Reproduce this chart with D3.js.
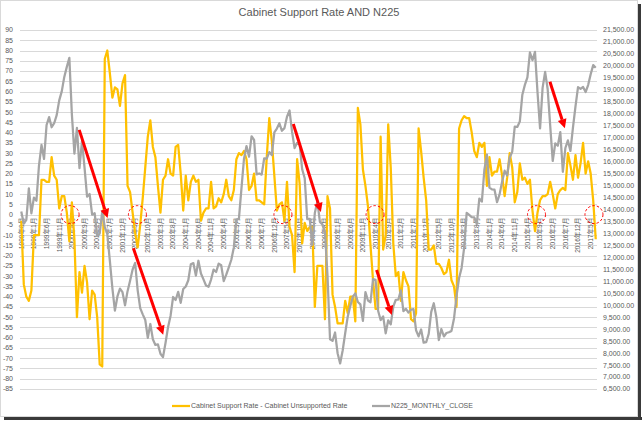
<!DOCTYPE html>
<html><head><meta charset="utf-8">
<script src="https://cdn.jsdelivr.net/npm/d3@7/dist/d3.min.js"></script>
<style>body{margin:0;background:#fff}svg{display:block}</style>
</head><body><svg id="c" width="644" height="421"></svg>
<script>
// ---------- data ----------
const startYear = 1998, startMonth = 8;   // first category: 1998年8月
const supportNet = [
 -3,-34,-40,-42,-37,-10,-10,-10,17,17,16,16,28,19,17,3,9,9,1,-13,
 6,-12,-50,-28,-38,-25,-33,-51,-37,-39,-50,-73,-74,76,80,69,57,62,61,53,
 64,68,14,11,1,-9,-16,-5,8,23,38,46,33,28,14,1,17,19,27,20,
 19,33,34,20,2,19,7,16,19,16,17,-3,1,3,3,16,3,4,8,6,
 10,17,9,7,12,27,30,29,31,27,12,14,20,7,7,6,5,28,47,36,
 19,2,5,6,-3,16,-6,-10,-28,27,15,-14,-4,-8,-6,-6,-45,-25,-25,-25,
 -51,9,3,-39,-45,-53,-53,-53,-42,-48,-40,-40,-52,52,44,22,14,4,-15,-32,
 -46,-46,38,-17,-10,44,23,-14,-30,-28,-42,-28,-32,-35,-51,-52,-48,42,31,18,
 7,-17,-17,-15,-24,-24,-26,-29,-28,-22,-32,-35,-45,42,46,48,47,47,40,31,
 28,35,33,35,14,28,19,21,21,27,19,9,18,30,23,6,11,25,17,18,
 15,17,2,-8,1,7,9,9,10,16,10,3,10,12,13,12,30,24,17,29,
 18,25,35,20,26,20,7,-12
];
const n225 = [
 13919,13406,13565,14883,13842,
 14499,14368,15837,16701,16112,17530,17862,17437,17605,17942,18558,18934,
 19540,19960,20337,17974,16332,17411,15727,16861,15747,14539,14649,13785,
 13844,12884,12999,13934,13262,12969,11861,10714,9775,10367,10697,10543,
 9998,10588,11025,11493,11764,10621,9878,9619,9383,8640,9216,8579,
 8340,8363,7973,7831,8425,9083,9563,10344,10219,10560,10101,10677,
 10784,11042,11715,11762,11236,11859,11326,11082,10824,10771,11073,11489,
 11388,11741,11669,11009,11277,11584,11900,12414,13574,13607,14872,16111,
 16650,16205,17060,16907,15467,15505,15457,16141,16128,16399,16274,17226,
 17383,17604,17288,17400,17876,18138,17249,16569,16786,16738,15681,15308,
 13593,13604,12526,13850,14339,13482,13377,13073,11260,8577,8512,8860,
 7994,7568,8110,8828,9523,9958,10357,10493,10133,10035,9346,10546,
 10198,10126,11090,11057,9769,9383,9537,8824,9369,9202,9937,10229,
 10238,10624,9755,9850,9694,9816,9833,8955,8700,8988,8435,8455,
 8803,9723,10084,9521,8543,9007,8695,8840,8870,8928,9446,10395,
 11139,11559,12398,13861,13775,13677,13668,13389,14456,14328,15662,16291,
 14915,14841,14828,14304,14632,15162,15621,15425,16174,16414,17460,17451,
 17674,18798,19207,19520,20563,20236,20585,18890,17388,19083,19747,19034,
 17518,16027,16759,16666,17235,15576,16569,16887,16450,17425,18308,19114,
 19041,19119,18909,19197,19651,20033,19925
];
const categories = supportNet.map((_, i) => {
  const m = startMonth - 1 + i;
  return (startYear + Math.floor(m / 12)) + "年" + (m % 12 + 1) + "月";
});
const leftTicks = d3.range(-85, 91, 5);
const rightTicks = d3.range(6500, 21501, 500);
const labelEvery = 5;
const titleText = "Cabinet Support Rate AND N225";
const seriesNames = ["Cabinet Support Rate - Cabinet Unsupported Rate", "N225_MONTHLY_CLOSE"];
// annotations in data units: [category index, left-axis value]
const arrows = [
  [[22.9, 41.3], [34.1, -1.6]],
  [[44.3, -16.4], [56.1, -58.6]],
  [[107.5, 44.2], [118.4, 1.3]],
  [[140.4, -27], [146.4, -48.9]],
  [[208.9, 64.8], [214.8, 42.1]]
];
const circles = [19.3, 45.9, 103.4, 139.8, 203.6, 226.3];

// ---------- drawing ----------
const svg = d3.select("#c");
const W = 644, H = 421;
const plot = {l: 20, r: 597, t: 30, b: 389};
const FONT = "'Liberation Sans', Arial, 'Noto Sans CJK JP', sans-serif";
const TXT = "#595959";

// frame + shadow
svg.append("rect").attr("x", 4).attr("y", 417).attr("width", 638).attr("height", 3).attr("fill", "#3a3a3a");
svg.append("rect").attr("x", 638).attr("y", 4).attr("width", 3).attr("height", 416).attr("fill", "#3a3a3a");
svg.append("rect").attr("x", 0.5).attr("y", 0.5).attr("width", 637).attr("height", 416)
  .attr("fill", "#fff").attr("stroke", "#d9d9d9");

const x = d3.scaleBand().domain(categories).range([plot.l, plot.r]);
const bw = x.bandwidth();
const cx = c => x(c) + bw / 2;
const xi = d3.scaleLinear().domain([0, categories.length]).range([plot.l, plot.r]);
const yL = d3.scaleLinear().domain([-85, 90]).range([plot.b, plot.t]);
const yR = d3.scaleLinear().domain([6500, 21500]).range([plot.b, plot.t]);

// gridlines
svg.append("g").selectAll("line").data(leftTicks).join("line")
  .attr("x1", plot.l).attr("x2", plot.r)
  .attr("y1", d => Math.round(yL(d)) + 0.5).attr("y2", d => Math.round(yL(d)) + 0.5)
  .attr("stroke", "#d9d9d9").attr("stroke-width", 1);

// left axis labels
svg.append("g").selectAll("text").data(leftTicks).join("text")
  .attr("x", 13).attr("y", d => yL(d)).attr("dy", "0.35em")
  .attr("text-anchor", "end").attr("font-family", FONT).attr("font-size", 7).attr("fill", TXT)
  .text(d => d);

// right axis labels
const fmtR = d3.format(",.2f");
svg.append("g").selectAll("text").data(rightTicks).join("text")
  .attr("x", 603).attr("y", d => yR(d)).attr("dy", "0.35em")
  .attr("text-anchor", "start").attr("font-family", FONT).attr("font-size", 7).attr("fill", TXT)
  .text(d => fmtR(d));

// category labels (rotated)
const y0 = yL(0);
svg.append("g").selectAll("text").data(categories.filter((c, i) => i % labelEvery === 0)).join("text")
  .attr("transform", c => `translate(${cx(c)},${y0 + 3}) rotate(-90)`)
  .attr("text-anchor", "end").attr("dy", "0.35em")
  .attr("font-family", FONT).attr("font-size", 6.6).attr("fill", TXT)
  .text(c => c);

// series
const lineL = d3.line().x((d, i) => cx(categories[i])).y(d => yL(d));
const lineR = d3.line().x((d, i) => cx(categories[i])).y(d => yR(d));
svg.append("path").datum(supportNet).attr("d", lineL).attr("fill", "none")
  .attr("stroke", "#ffc000").attr("stroke-width", 2.25).attr("stroke-linejoin", "round");
svg.append("path").datum(n225).attr("d", lineR).attr("fill", "none")
  .attr("stroke", "#a5a5a5").attr("stroke-width", 2.25).attr("stroke-linejoin", "round");

// annotations: dashed circles
const ax = i => xi(i + 0.5);
svg.append("g").selectAll("circle").data(circles).join("circle")
  .attr("cx", d => ax(d)).attr("cy", yL(0)).attr("r", 9)
  .attr("fill", "none").attr("stroke", "#ff0000").attr("stroke-width", 1).attr("stroke-dasharray", "2.5,2");

// annotations: arrows
const ag = svg.append("g");
arrows.forEach(([a, b]) => {
  const x1 = ax(a[0]), y1 = yL(a[1]), x2 = ax(b[0]), y2 = yL(b[1]);
  const dx = x2 - x1, dy = y2 - y1, L = Math.hypot(dx, dy);
  const ux = dx / L, uy = dy / L, hl = 9, hw = 4.5;
  const bx = x2 - ux * hl, by = y2 - uy * hl;
  ag.append("line").attr("x1", x1).attr("y1", y1).attr("x2", bx).attr("y2", by)
    .attr("stroke", "#ff0000").attr("stroke-width", 3);
  ag.append("path").attr("d", `M${x2},${y2}L${bx - uy * hw},${by + ux * hw}L${bx + uy * hw},${by - ux * hw}Z`)
    .attr("fill", "#ff0000");
});

// title
svg.append("text").attr("x", 319).attr("y", 16).attr("text-anchor", "middle")
  .attr("font-family", FONT).attr("font-size", 11).attr("fill", TXT).text(titleText);

// legend
const lg = svg.append("g");
const legendItems = [{name: seriesNames[0], color: "#ffc000", x: 172}, {name: seriesNames[1], color: "#a5a5a5", x: 372}];
legendItems.forEach(d => {
  lg.append("line").attr("x1", d.x).attr("x2", d.x + 18).attr("y1", 406).attr("y2", 406)
    .attr("stroke", d.color).attr("stroke-width", 2.25);
  lg.append("text").attr("x", d.x + 19).attr("y", 406).attr("dy", "0.35em")
    .attr("font-family", FONT).attr("font-size", 7).attr("fill", TXT).text(d.name);
});
</script>
</body></html>
